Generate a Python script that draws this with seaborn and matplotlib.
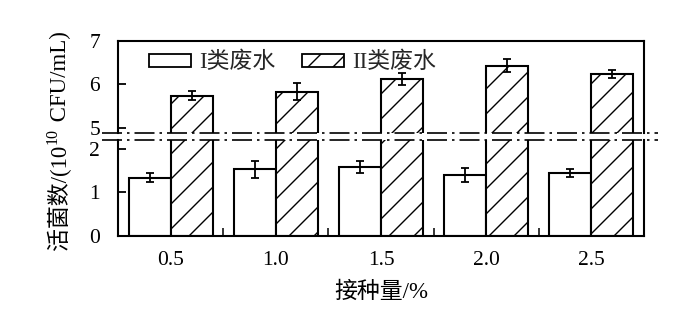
import matplotlib
matplotlib.use("Agg")
import matplotlib.pyplot as plt
from matplotlib.lines import Line2D
from matplotlib.patches import Patch
import seaborn as sns
import pandas as pd

# ---- data ----
dose_labels = ["0.5", "1.0", "1.5", "2.0", "2.5"]
series_names = ["I类废水", "II类废水"]
vals_I = [1.34, 1.53, 1.58, 1.40, 1.44]
err_I = [0.10, 0.20, 0.14, 0.16, 0.09]
vals_II = [5.74, 5.83, 6.13, 6.43, 6.24]
err_II = [0.10, 0.20, 0.14, 0.15, 0.09]
upper_ticks = [5, 6, 7]
lower_ticks = [0, 1, 2]
xlabel = "接种量/%"
ylabel_parts = ["活菌数/(10", "10", " CFU/mL)"]

DPI = 150
k = 100 / DPI  # converts "points at 100 dpi" to points at this dpi

sns.set_theme(style="white")
plt.rcParams["font.family"] = ["Liberation Serif", "Noto Sans CJK SC"]
plt.rcParams["hatch.linewidth"] = 1.0 * k
plt.rcParams["hatch.color"] = "black"

df = pd.DataFrame({
    "dose": dose_labels * 2,
    "type": [series_names[0]] * 5 + [series_names[1]] * 5,
    "val": vals_I + vals_II,
})
errs = {series_names[0]: err_I, series_names[1]: err_II}

W, H = 700, 328
fig = plt.figure(figsize=(W / DPI, H / DPI), dpi=DPI)
L, R = 118 / W, 644 / W
ax_up = fig.add_axes([L, 1 - 133 / H, R - L, (133 - 41) / H])
ax_lo = fig.add_axes([L, 1 - 236 / H, R - L, (236 - 140) / H])

fs_tick = 15.5 * k
fs_lab = 16.5 * k
for ax in (ax_up, ax_lo):
    sns.barplot(data=df, x="dose", y="val", hue="type", order=dose_labels,
                hue_order=series_names, palette=["white", "white"],
                errorbar=None, width=0.8, legend=False, ax=ax,
                edgecolor="black", linewidth=1.5 * k, saturation=1)
    bar_conts = list(ax.containers)[:2]
    for ci, cont in enumerate(bar_conts):
        name = series_names[ci]
        xs, ys = [], []
        for bar in cont:
            bar.set_edgecolor("black")
            bar.set_facecolor("white")
            if ci == 1:
                bar.set_hatch("//")
            xs.append(bar.get_x() + bar.get_width() / 2)
            ys.append(bar.get_height())
        ax.errorbar(xs, ys, yerr=errs[name], fmt="none", ecolor="black",
                    elinewidth=1.3 * k, capsize=3 * k, capthick=1.3 * k,
                    zorder=5)
    ax.set_xlim(-0.5, 4.5)
    ax.set_xlabel("")
    ax.set_ylabel("")
    for s in ax.spines.values():
        s.set_color("black")
        s.set_linewidth(1.5 * k)
    ax.tick_params(axis="y", direction="in", length=6 * k, width=1.3 * k,
                   labelsize=fs_tick, pad=13 * k, left=True, colors="black")

ax_up.set_ylim(4.88, 7)
ax_up.set_yticks(upper_ticks)
ax_up.spines["bottom"].set_visible(False)
ax_up.tick_params(axis="x", bottom=False, labelbottom=False)

ax_lo.set_ylim(0, 2.2)
ax_lo.set_yticks(lower_ticks)
ax_lo.spines["top"].set_visible(False)
ax_lo.set_xticks(range(len(dose_labels)))
ax_lo.set_xticklabels(dose_labels)
ax_lo.set_xticks([0.5, 1.5, 2.5, 3.5], minor=True)
ax_lo.tick_params(axis="x", which="major", length=0, labelsize=fs_tick,
                  pad=11 * k, colors="black")
ax_lo.tick_params(axis="x", which="minor", direction="in", length=6 * k,
                  width=1.3 * k, bottom=True)
ax_lo.set_xlabel(xlabel, fontsize=fs_lab, labelpad=8 * k, color="black")

# y label built from pieces (superscript 10)
renderer = fig.canvas.get_renderer()
base_x = 66
y0 = 250
t1 = fig.text(base_x / W, 1 - y0 / H, ylabel_parts[0], rotation=90,
              rotation_mode="anchor", ha="left", va="baseline",
              fontsize=fs_lab, color="black")
bb = t1.get_window_extent(renderer)
t2 = fig.text((base_x - 9) / W, (bb.y1 + 1) / H, ylabel_parts[1], rotation=90,
              rotation_mode="anchor", ha="left", va="baseline",
              fontsize=fs_lab * 0.7, color="black")
bb2 = t2.get_window_extent(renderer)
t3 = fig.text(base_x / W, (bb2.y1 + 1) / H, ylabel_parts[2], rotation=90,
              rotation_mode="anchor", ha="left", va="baseline",
              fontsize=fs_lab, color="black")

# break lines (dash-dot) across the figure
for yp in (133, 140):
    fig.add_artist(Line2D([102 / W, 658 / W], [1 - yp / H, 1 - yp / H],
                          transform=fig.transFigure, color="black",
                          linewidth=1.2 * k, linestyle=(0, (12, 3, 1.5, 3))))

handles = [Patch(facecolor="white", edgecolor="black", linewidth=1.3 * k),
           Patch(facecolor="white", edgecolor="black", linewidth=1.3 * k,
                 hatch="//")]
ax_up.legend(handles, series_names, loc="upper left",
             bbox_to_anchor=(0.059, 0.88), ncol=2, frameon=False,
             fontsize=fs_lab, handlelength=1.85, handleheight=0.5,
             handletextpad=0.35, columnspacing=1.15, borderpad=0,
             borderaxespad=0)

fig.savefig("out.png", dpi=DPI)
